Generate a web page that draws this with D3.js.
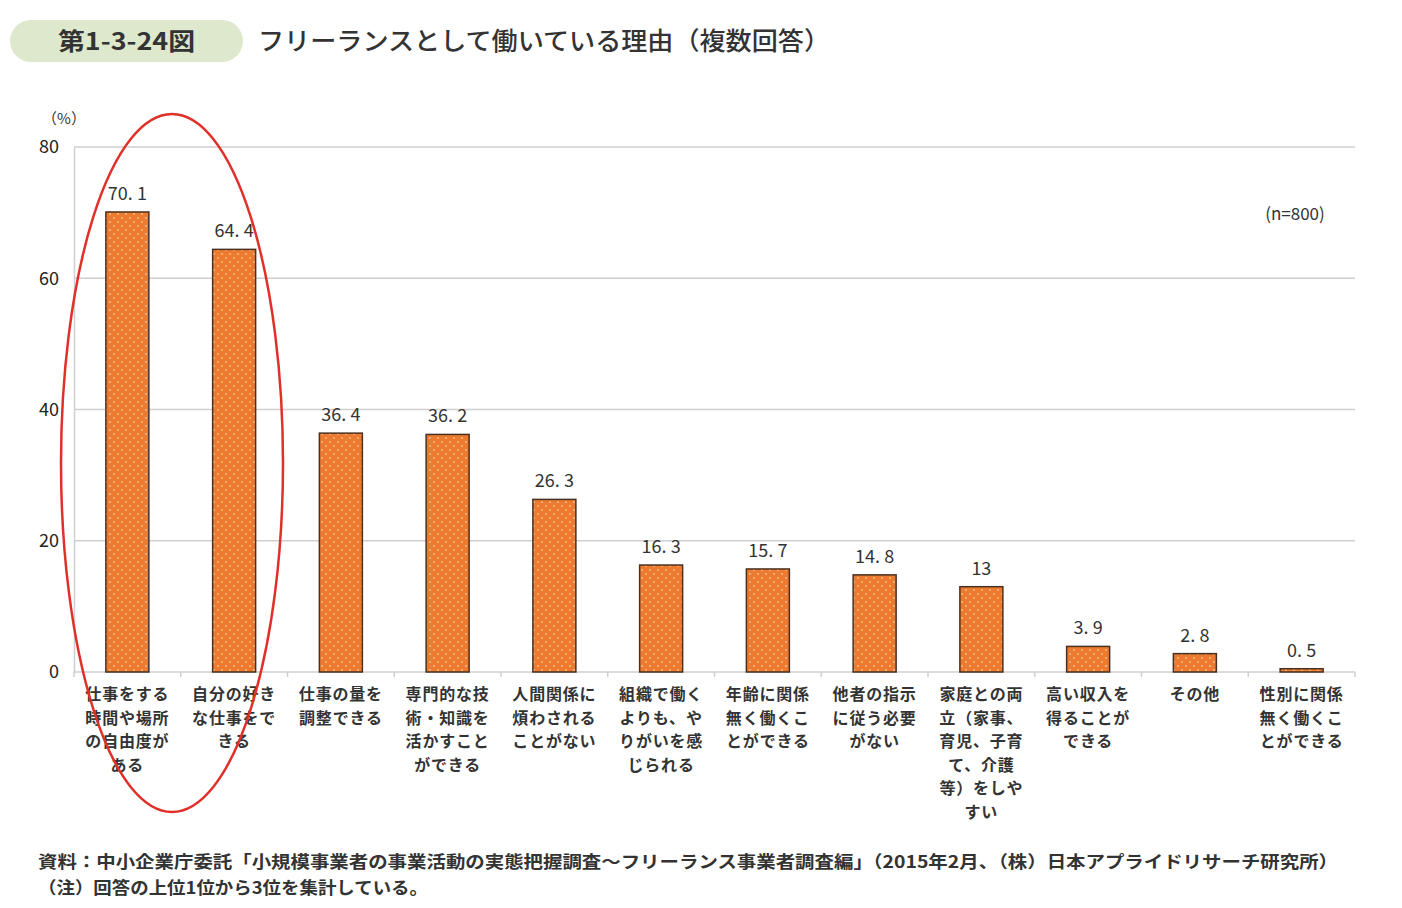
<!DOCTYPE html>
<html><head><meta charset="utf-8">
<script src="https://cdn.jsdelivr.net/npm/d3@7"></script>
<style>
body{margin:0;background:#fff;}
text{font-family:"Noto Sans CJK JP","Noto Sans",sans-serif;}
</style></head><body>
<svg id="c" width="1402" height="908"></svg>
<script>
const categories = [
  ["仕事をする","時間や場所","の自由度が","ある"],
  ["自分の好き","な仕事をで","きる"],
  ["仕事の量を","調整できる"],
  ["専門的な技","術・知識を","活かすこと","ができる"],
  ["人間関係に","煩わされる","ことがない"],
  ["組織で働く","よりも、や","りがいを感","じられる"],
  ["年齢に関係","無く働くこ","とができる"],
  ["他者の指示","に従う必要","がない"],
  ["家庭との両","立（家事、","育児、子育","て、介護","等）をしや","すい"],
  ["高い収入を","得ることが","できる"],
  ["その他"],
  ["性別に関係","無く働くこ","とができる"]
];
const values = [70.1, 64.4, 36.4, 36.2, 26.3, 16.3, 15.7, 14.8, 13, 3.9, 2.8, 0.5];
const valueLabels = ["70. 1","64. 4","36. 4","36. 2","26. 3","16. 3","15. 7","14. 8","13","3. 9","2. 8","0. 5"];
const yTicks = [0, 20, 40, 60, 80];

const svg = d3.select("#c");
const L = 74, R = 1355, T = 147, B = 672;

// pattern
const defs = svg.append("defs");
const pat = defs.append("pattern").attr("id","dots").attr("patternUnits","userSpaceOnUse")
  .attr("width",8).attr("height",8);
pat.append("rect").attr("width",8).attr("height",8).attr("fill","#EC7A2F");
pat.append("circle").attr("cx",2).attr("cy",2).attr("r",1).attr("fill","#F8B98A");
pat.append("circle").attr("cx",6).attr("cy",6).attr("r",1).attr("fill","#F8B98A");

// title
svg.append("rect").attr("x",10).attr("y",20).attr("width",233).attr("height",42)
  .attr("rx",21).attr("fill","#DDE8CC");
svg.append("text").attr("x",58).attr("y",50)
  .attr("font-size",24).attr("font-weight","bold").attr("fill","#333")
  .attr("textLength",137).attr("lengthAdjust","spacingAndGlyphs").text("第1-3-24図");
svg.append("text").attr("x",258).attr("y",50).attr("font-size",25).attr("fill","#333").attr("font-weight",500)
  .attr("textLength",572).attr("lengthAdjust","spacingAndGlyphs")
  .text("フリーランスとして働いている理由（複数回答）");

const xb = d3.scaleBand().domain(d3.range(categories.length)).range([L,R]);
const y = d3.scaleLinear().domain([0,80]).range([B,T]);

// gridlines
svg.append("g").selectAll("line").data(yTicks.filter(d=>d>0)).join("line")
  .attr("x1",L).attr("x2",R).attr("y1",d=>y(d)).attr("y2",d=>y(d))
  .attr("stroke","#cfcfcf").attr("stroke-width",1.5);

// y axis
const ya = svg.append("g").attr("transform",`translate(${L},0)`)
  .call(d3.axisLeft(y).tickValues(yTicks).tickSize(0).tickPadding(15));
ya.select(".domain").attr("stroke","#cfcfcf").attr("stroke-width",1.5);
ya.selectAll("text").attr("font-size",18).attr("fill","#222").attr("font-family","'Noto Sans','DejaVu Sans',sans-serif");
svg.append("text").attr("x",64).attr("y",124).attr("text-anchor","middle").attr("font-size",15).attr("fill","#333").text("（%）");

// x axis baseline and ticks
svg.append("line").attr("x1",L).attr("x2",R).attr("y1",B).attr("y2",B).attr("stroke","#cfcfcf").attr("stroke-width",1.5);
svg.append("g").selectAll("line").data(d3.range(categories.length+1)).join("line")
  .attr("x1",d=>L+d*xb.step()).attr("x2",d=>L+d*xb.step()).attr("y1",B).attr("y2",B+5)
  .attr("stroke","#cfcfcf").attr("stroke-width",1.5);

// bars
svg.append("g").selectAll("rect").data(values).join("rect")
  .attr("x",(d,i)=>xb(i)+xb.bandwidth()/2-21.5).attr("width",43)
  .attr("y",d=>y(d)).attr("height",d=>B-y(d))
  .attr("fill","url(#dots)").attr("stroke","#4a3020").attr("stroke-width",1.5);

// value labels
svg.append("g").selectAll("text").data(values).join("text")
  .attr("x",(d,i)=>xb(i)+xb.bandwidth()/2).attr("y",d=>y(d)-12)
  .attr("text-anchor","middle").attr("font-size",18).attr("fill","#333")
  .attr("font-family","'Noto Sans','DejaVu Sans',sans-serif")
  .text((d,i)=>valueLabels[i]);

// category labels
const cg = svg.append("g");
categories.forEach((lines,i)=>{
  const t = cg.append("text").attr("text-anchor","middle").attr("font-size",16).attr("fill","#333")
    .attr("font-weight","bold").attr("letter-spacing",0.8);
  lines.forEach((ln,j)=>{
    t.append("tspan").attr("x",xb(i)+xb.bandwidth()/2).attr("y",700+j*23.5).text(ln);
  });
});

// n
svg.append("text").attr("x",1295).attr("y",220).attr("text-anchor","middle").attr("font-size",17).attr("fill","#333").text("(n=800)");

// ellipse
svg.append("ellipse").attr("cx",172).attr("cy",463).attr("rx",111).attr("ry",349)
  .attr("fill","none").attr("stroke","#E0302A").attr("stroke-width",2.5);

// footer
svg.append("text").attr("x",38).attr("y",868).attr("font-size",17).attr("fill","#333").attr("font-weight","bold")
  .attr("textLength",1300).attr("lengthAdjust","spacingAndGlyphs")
  .text("資料：中小企業庁委託「小規模事業者の事業活動の実態把握調査～フリーランス事業者調査編」（2015年2月、（株）日本アプライドリサーチ研究所）");
svg.append("text").attr("x",38).attr("y",894).attr("font-size",17).attr("fill","#333").attr("font-weight","bold")
  .attr("textLength",390).attr("lengthAdjust","spacingAndGlyphs")
  .text("（注）回答の上位1位から3位を集計している。");
</script></body></html>
